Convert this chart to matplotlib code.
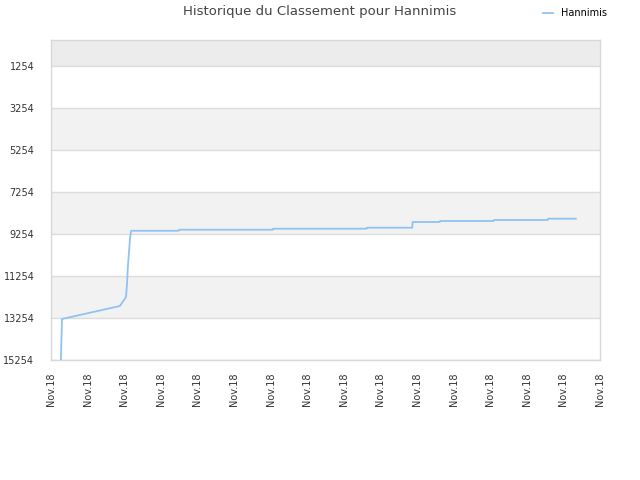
import matplotlib
matplotlib.use("Agg")
import matplotlib.pyplot as plt

# rank history, x in tick units (0..15), all ticks are "Nov.18"
days = [0.27, 0.30, 1.88, 2.05, 2.08, 2.10, 2.16, 2.19, 3.49, 3.50, 6.06, 6.07,
        8.62, 8.63, 9.87, 9.88, 10.62, 10.63, 12.09, 12.10, 13.57, 13.58, 14.34]
ranks = [15254, 13302, 12683, 12254, 11540, 10825, 9444, 9100, 9100, 9050, 9050, 9002,
         9002, 8954, 8954, 8683, 8683, 8635, 8635, 8587, 8587, 8526, 8526]

yticks = [1254, 3254, 5254, 7254, 9254, 11254, 13254, 15254]
xlabels = ["Nov.18"] * 16
y_top = 16

fig = plt.figure(figsize=(6.4, 4.8), dpi=100)
ax = fig.add_axes([51 / 640, 1 - 360 / 480, 549 / 640, 320 / 480])

# background bands
ax.axhspan(y_top, yticks[0], color="#ececec", zorder=0, lw=0)
for i in range(len(yticks) - 1):
    col = "#f2f2f2" if i % 2 == 1 else "#ffffff"
    ax.axhspan(yticks[i], yticks[i + 1], color=col, zorder=0, lw=0)
for t in yticks:
    ax.axhline(t, color="#dcdcdc", lw=1, zorder=1)

ax.plot(days, ranks, color="#90c3f2", lw=1.3, zorder=3, label="Hannimis")

ax.set_xlim(0, 15)
ax.set_ylim(15254, y_top)
ax.set_yticks(yticks)
ax.set_yticklabels([str(t) for t in yticks], fontsize=7, color="#333333")
ax.set_xticks(range(16))
ax.set_xticklabels(xlabels, rotation=90, fontsize=7, color="#333333")
ax.tick_params(axis="y", length=0, pad=12)
ax.tick_params(axis="x", length=0, pad=9)
for s in ax.spines.values():
    s.set_color("#d8d8d8")
    s.set_linewidth(1)

fig.text(0.5, 1 - 12 / 480, "Historique du Classement pour Hannimis", ha="center", va="center",
         fontsize=9.5, color="#444444")
fig.legend(loc="center right", bbox_to_anchor=(0.962, 1 - 13 / 480), frameon=False, fontsize=7,
           handlelength=1.0, handletextpad=0.8)

fig.savefig("out.png", dpi=100)
